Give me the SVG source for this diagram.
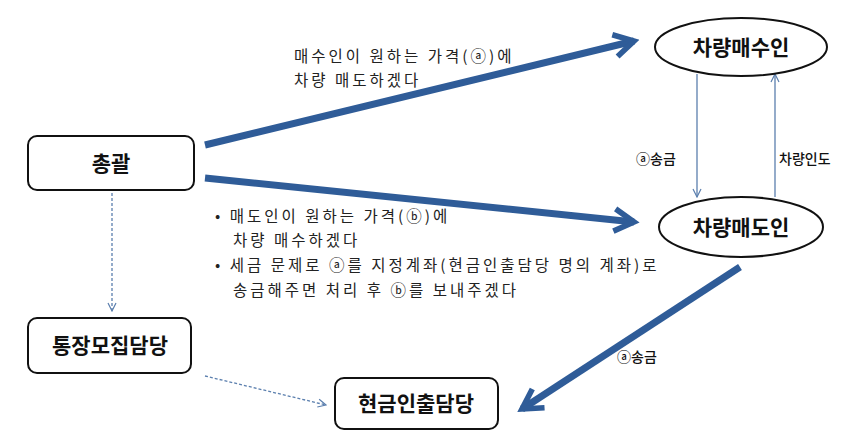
<svg xmlns="http://www.w3.org/2000/svg" width="858" height="434" viewBox="0 0 858 434">
<style>
.box{fill:#fff;stroke:#111;stroke-width:2}
.t{font-family:"Noto Sans CJK KR","Noto Sans",sans-serif;font-weight:bold;font-size:21px;fill:#111;text-anchor:middle}
.s{font-family:"Noto Sans CJK KR","Noto Sans",sans-serif;font-size:15.5px;fill:#222;letter-spacing:3px}
.l{font-family:"Noto Sans CJK KR","Noto Sans",sans-serif;font-size:14px;font-weight:500;fill:#111}
.thick{stroke:#2f5c98;stroke-width:7;fill:none}
.thin{stroke:#5b7fae;stroke-width:1.3;fill:none}
.dash{stroke:#5b7fae;stroke-width:1.3;fill:none;stroke-dasharray:3 2}
</style>
<defs>
<marker id="ah" viewBox="0 0 10 10" refX="8" refY="5" markerWidth="4" markerHeight="4" orient="auto" markerUnits="strokeWidth"><path d="M1,1 L8,5 L1,9" fill="none" stroke="#2f5c98" stroke-width="2"/></marker>
<marker id="al" viewBox="0 0 10 10" refX="9" refY="5" markerWidth="10" markerHeight="10" orient="auto" markerUnits="userSpaceOnUse"><path d="M1,1 L9,5 L1,9" fill="none" stroke="#5b7fae" stroke-width="1.2"/></marker>
</defs>
<g id="connectors">
<line class="thick" x1="205" y1="145" x2="634" y2="41" marker-end="url(#ah)"/>
<line class="thick" x1="205" y1="178" x2="634" y2="222" marker-end="url(#ah)"/>
<line class="thick" x1="740" y1="267" x2="522" y2="409" marker-end="url(#ah)"/>
<line class="thin" x1="697" y1="74" x2="697" y2="197" marker-end="url(#al)"/>
<line class="thin" x1="775" y1="197" x2="775" y2="74" marker-end="url(#al)"/>
<line class="dash" x1="112" y1="193" x2="112" y2="311" marker-end="url(#al)"/>
<line class="dash" x1="205" y1="376" x2="326" y2="405" marker-end="url(#al)"/>
<text class="s" x="294" y="62">매수인이 원하는 가격(ⓐ)에</text>
<text class="s" x="294" y="86">차량 매도하겠다</text>
<text class="l" x="636" y="164">ⓐ송금</text>
<text class="l" x="779" y="164">차량인도</text>
<text class="s" x="215" y="222">•  매도인이 원하는 가격(ⓑ)에</text>
<text class="s" x="233" y="246">차량 매수하겠다</text>
<text class="s" x="215" y="271">•  세금 문제로 ⓐ를  지정계좌(현금인출담당 명의 계좌)로</text>
<text class="s" x="233" y="296">송금해주면 처리 후 ⓑ를  보내주겠다</text>
<text class="l" x="617" y="362">ⓐ송금</text>
</g>
<g id="chonggwal"><rect class="box" x="28" y="136" width="166" height="54" rx="9"/><text class="t" x="111" y="171">총괄</text></g>
<g id="tongjang"><rect class="box" x="28" y="318" width="163" height="55" rx="9"/><text class="t" x="110" y="353">통장모집담당</text></g>
<g id="hyeongeum"><rect class="box" x="335" y="378" width="163" height="51" rx="9"/><text class="t" x="416" y="411">현금인출담당</text></g>
<g id="maesuin"><ellipse class="box" cx="741" cy="47" rx="86" ry="29"/><text class="t" x="741" y="55">차량매수인</text></g>
<g id="maedoin"><ellipse class="box" cx="741" cy="227" rx="82" ry="30"/><text class="t" x="741" y="235">차량매도인</text></g>
</svg>
